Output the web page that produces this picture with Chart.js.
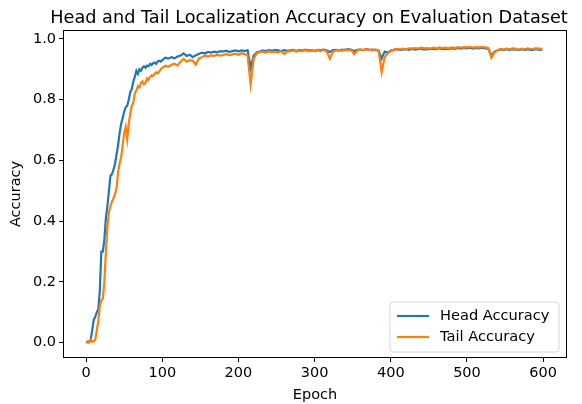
<!DOCTYPE html>
<html><head><meta charset="utf-8">
<script src="https://cdn.jsdelivr.net/npm/chart.js@4/dist/chart.umd.min.js"></script>
<style>html,body{margin:0;padding:0;background:#fff}#wrap{width:582px;height:404px}</style>
</head><body><div id="wrap"><canvas id="c" width="582" height="404"></canvas></div>
<script>
const chartTitle = 'Head and Tail Localization Accuracy on Evaluation Dataset';
const xLabel = 'Epoch';
const yLabel = 'Accuracy';
const seriesNames = ['Head Accuracy', 'Tail Accuracy'];
const xTicks = [0, 100, 200, 300, 400, 500, 600];
const yTicks = [0.0, 0.2, 0.4, 0.6, 0.8, 1.0];

const epochs = [
  0,2,4,6,8,10,12,14,16,18,20,22,24,26,28,30,32,34,36,38,
  40,42,44,46,48,50,52,54,56,58,60,62,64,66,68,70,72,74,76,78,
  80,82,84,86,88,90,92,94,96,98,
  100,104,108,112,116,120,124,128,132,136,
  140,144,148,152,156,160,164,168,172,176,
  180,184,188,192,196,200,204,208,212,216,
  220,224,228,232,236,240,244,248,252,256,
  260,264,268,272,276,280,284,288,292,296,
  300,304,308,312,316,320,324,328,332,336,
  340,344,348,352,356,360,364,368,372,376,
  380,384,388,392,396,400,404,408,412,416,
  420,424,428,432,436,440,444,448,452,456,
  460,464,468,472,476,480,484,488,492,496,
  500,504,508,512,516,520,524,528,532,536,
  540,544,548,552,556,560,564,568,572,576,
  580,584,588,592,596,599
];

const headAccuracy = [
  0.0,0.002,0.005,0.01,0.04,0.075,0.085,0.1,0.11,0.17,
  0.3,0.3,0.34,0.41,0.45,0.5,0.55,0.555,0.57,0.59,
  0.62,0.65,0.69,0.72,0.74,0.76,0.775,0.78,0.8,0.825,
  0.835,0.86,0.875,0.895,0.885,0.9,0.895,0.905,0.91,0.905,
  0.912,0.91,0.918,0.914,0.92,0.922,0.918,0.926,0.928,0.925,
  0.93,0.938,0.935,0.94,0.936,0.942,0.945,0.952,0.944,0.948,
  0.94,0.946,0.95,0.955,0.952,0.957,0.955,0.958,0.956,0.96,
  0.958,0.961,0.957,0.96,0.962,0.959,0.962,0.96,0.963,0.905,
  0.945,0.955,0.958,0.962,0.96,0.963,0.961,0.964,0.962,0.96,
  0.963,0.961,0.962,0.964,0.96,0.963,0.962,0.965,0.962,0.963,
  0.961,0.964,0.963,0.965,0.962,0.957,0.963,0.964,0.962,0.965,
  0.963,0.966,0.964,0.96,0.964,0.965,0.963,0.966,0.964,0.965,
  0.963,0.962,0.935,0.958,0.955,0.962,0.964,0.966,0.963,0.965,
  0.966,0.964,0.967,0.965,0.966,0.968,0.965,0.967,0.966,0.968,
  0.966,0.969,0.967,0.968,0.966,0.969,0.967,0.97,0.968,0.97,
  0.969,0.971,0.968,0.97,0.969,0.971,0.969,0.968,0.945,0.958,
  0.962,0.965,0.963,0.966,0.964,0.966,0.965,0.963,0.966,0.964,
  0.966,0.963,0.965,0.966,0.964,0.965
];

const tailAccuracy = [
  0.0,0.005,0.0,0.01,0.003,0.005,0.01,0.04,0.07,0.12,
  0.14,0.145,0.2,0.3,0.385,0.43,0.45,0.465,0.475,0.49,
  0.51,0.56,0.59,0.61,0.65,0.69,0.71,0.67,0.72,0.755,
  0.78,0.79,0.82,0.83,0.845,0.84,0.855,0.86,0.85,0.855,
  0.87,0.865,0.875,0.88,0.878,0.885,0.89,0.886,0.892,0.9,
  0.905,0.912,0.908,0.915,0.918,0.912,0.925,0.934,0.925,0.93,
  0.928,0.915,0.935,0.94,0.945,0.942,0.946,0.944,0.948,0.945,
  0.947,0.95,0.946,0.949,0.951,0.948,0.953,0.95,0.945,0.85,
  0.935,0.952,0.956,0.958,0.955,0.959,0.956,0.958,0.955,0.96,
  0.95,0.958,0.96,0.962,0.958,0.961,0.96,0.963,0.959,0.962,
  0.96,0.963,0.961,0.964,0.958,0.935,0.958,0.962,0.963,0.961,
  0.965,0.962,0.964,0.95,0.962,0.965,0.963,0.966,0.964,0.962,
  0.965,0.96,0.89,0.94,0.952,0.96,0.964,0.967,0.965,0.968,
  0.966,0.969,0.968,0.97,0.968,0.971,0.969,0.97,0.968,0.971,
  0.969,0.972,0.97,0.971,0.969,0.972,0.97,0.973,0.971,0.973,
  0.972,0.974,0.971,0.973,0.972,0.974,0.972,0.97,0.938,0.955,
  0.963,0.967,0.965,0.968,0.966,0.969,0.967,0.965,0.968,0.966,
  0.969,0.966,0.968,0.969,0.967,0.968
];

const FONT = "'DejaVu Sans', sans-serif";
const BLUE = '#1f77b4', ORANGE = '#ff7f0e';

const framePlugin = {
  id: 'frame',
  afterDatasetsDraw(chart) {
    const {ctx, chartArea: a} = chart;
    ctx.save();
    ctx.strokeStyle = '#000';
    ctx.lineWidth = 1;
    ctx.strokeRect(Math.round(a.left) - 0.5, Math.round(a.top) - 0.5, Math.round(a.right - a.left) + 1, Math.round(a.bottom - a.top) + 1);
    ctx.restore();
  }
};

const titlePlugin = {
  id: 'mtitle',
  afterDraw(chart) {
    const {ctx, chartArea: a} = chart;
    ctx.save();
    ctx.font = '17.7px ' + FONT;
    ctx.fillStyle = '#000';
    ctx.textAlign = 'center';
    ctx.textBaseline = 'alphabetic';
    ctx.fillText(chartTitle, (a.left + a.right) / 2 - 6, 23);
    ctx.restore();
  }
};

const legendPlugin = {
  id: 'mlegend',
  afterDraw(chart) {
    const {ctx} = chart;
    const x0 = 390, y0 = 302, w = 169, h = 50, r = 3;
    ctx.save();
    ctx.beginPath();
    ctx.moveTo(x0 + r, y0);
    ctx.lineTo(x0 + w - r, y0);
    ctx.arcTo(x0 + w, y0, x0 + w, y0 + r, r);
    ctx.lineTo(x0 + w, y0 + h - r);
    ctx.arcTo(x0 + w, y0 + h, x0 + w - r, y0 + h, r);
    ctx.lineTo(x0 + r, y0 + h);
    ctx.arcTo(x0, y0 + h, x0, y0 + h - r, r);
    ctx.lineTo(x0, y0 + r);
    ctx.arcTo(x0, y0, x0 + r, y0, r);
    ctx.closePath();
    ctx.fillStyle = 'rgba(255,255,255,0.8)';
    ctx.fill();
    ctx.strokeStyle = '#d5d5d5';
    ctx.lineWidth = 1;
    ctx.stroke();
    ctx.font = '14.6px ' + FONT;
    ctx.textBaseline = 'middle';
    ctx.textAlign = 'left';
    chart.data.datasets.forEach((ds, i) => {
      const yy = 316 + i * 21;
      ctx.strokeStyle = ds.borderColor;
      ctx.lineWidth = 2.2;
      ctx.beginPath();
      ctx.moveTo(397, yy);
      ctx.lineTo(429, yy);
      ctx.stroke();
      ctx.fillStyle = '#000';
      ctx.fillText(ds.label, 440, yy);
    });
    ctx.restore();
  }
};

const mk = (ys) => epochs.map((e, i) => ({x: e, y: ys[i]}));

new Chart(document.getElementById('c'), {
  type: 'line',
  data: {
    datasets: [
      {label: seriesNames[0], data: mk(headAccuracy), borderColor: BLUE, backgroundColor: BLUE, borderWidth: 2.2, pointRadius: 0, tension: 0, order: 1},
      {label: seriesNames[1], data: mk(tailAccuracy), borderColor: ORANGE, backgroundColor: ORANGE, borderWidth: 2.2, pointRadius: 0, tension: 0, order: 0}
    ]
  },
  options: {
    responsive: false,
    animation: false,
    devicePixelRatio: 1,
    layout: {padding: {top: 31, right: 16, bottom: 0, left: 0}},
    plugins: {legend: {display: false}, title: {display: false}, tooltip: {enabled: false}},
    scales: {
      x: {
        type: 'linear', min: -29, max: 630,
        afterBuildTicks: (ax) => { ax.ticks = xTicks.map(v => ({value: v})); },
        afterFit: (ax) => { ax.height = 47; },
        grid: {display: true, drawOnChartArea: false, drawTicks: true, tickLength: 5, color: '#000', lineWidth: 1},
        border: {display: false},
        ticks: {color: '#000', font: {family: FONT, size: 14.5}, padding: 3, maxRotation: 0, autoSkip: false, callback: (v) => String(v)},
        title: {display: true, text: xLabel, color: '#000', font: {family: FONT, size: 14.5}, padding: 0}
      },
      y: {
        type: 'linear', min: -0.047, max: 1.026,
        afterBuildTicks: (ax) => { ax.ticks = yTicks.map(v => ({value: v})); },
        afterFit: (ax) => { ax.width = 64; },
        grid: {display: true, drawOnChartArea: false, drawTicks: true, tickLength: 5, color: '#000', lineWidth: 1},
        border: {display: false},
        ticks: {color: '#000', font: {family: FONT, size: 14.5}, padding: 3, autoSkip: false, callback: (v) => Number(v).toFixed(1)},
        title: {display: true, text: yLabel, color: '#000', font: {family: FONT, size: 14.5}, padding: 8}
      }
    }
  },
  plugins: [framePlugin, titlePlugin, legendPlugin]
});
</script>
</body></html>
